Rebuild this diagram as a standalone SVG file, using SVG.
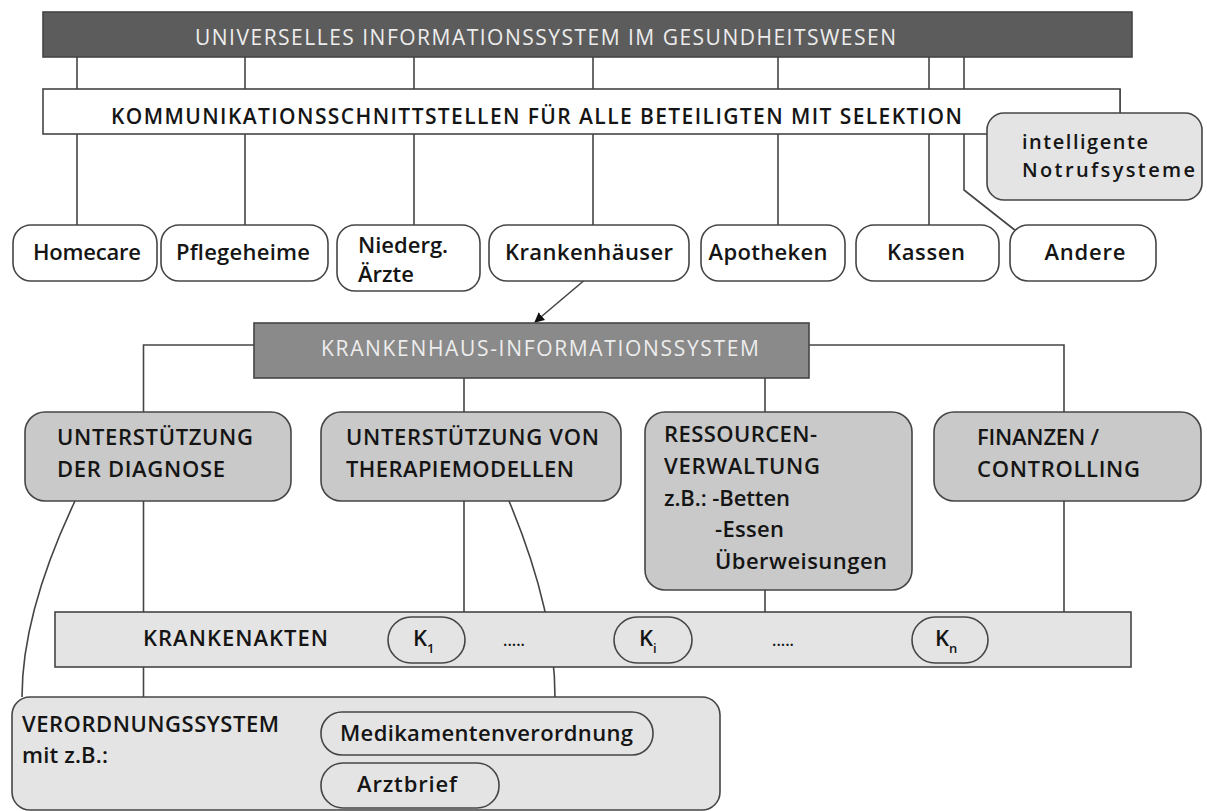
<svg xmlns="http://www.w3.org/2000/svg" width="1207" height="811" viewBox="0 0 1207 811">
<defs>
<marker id="arr" viewBox="0 0 10 10" refX="9" refY="5" markerWidth="10" markerHeight="10" markerUnits="userSpaceOnUse" orient="auto"><path d="M0,0 L10,5 L0,10 z" fill="#111"/></marker>
<style>
text{font-family:"Open Sans","Noto Sans","Liberation Sans",sans-serif;fill:#151515;font-weight:600}
.ln{fill:none;stroke:#454545;stroke-width:1.6}
.bx{stroke:#454545;stroke-width:1.6}
.w{fill:#fff}
.lg{fill:#e4e4e4}
.mg{fill:#c9c9c9}
.n{font-size:22px;text-anchor:middle}
.b{font-size:22px}
.lt{fill:#ededed;font-weight:400}
</style>
</defs>
<rect width="1207" height="811" fill="#fff"/>
<g id="connectors">
<path class="ln" d="M77,57V225M245,57V225M414,57V225M593,57V225M778,57V225M929,57V225M964,57V190L1016,231"/>
<path class="ln" d="M1120,89V113"/>
<path class="ln" d="M587,278L535,322" marker-end="url(#arr)"/>
<path class="ln" d="M254,345H143.5V412M809,345H1064V412M464,378V412M765,378V412"/>
<path class="ln" d="M143.5,501V612M464,501V612M765,590V612M1064,501V612M143.5,667V697"/>
<path class="ln" d="M75,501C40,575 22,640 22,697"/>
<path class="ln" d="M509,501C540,575 555,640 555,697"/>
</g>
<g id="top-bar"><rect class="bx" x="43" y="12" width="1089" height="45" fill="#5c5c5c"/>
<text x="195" y="45" font-size="21" textLength="701" class="lt">UNIVERSELLES INFORMATIONSSYSTEM IM GESUNDHEITSWESEN</text></g>
<g id="comm-bar"><rect class="bx w" x="43" y="89" width="1077" height="45"/>
<text x="111" y="124" font-size="21" textLength="851">KOMMUNIKATIONSSCHNITTSTELLEN FÜR ALLE BETEILIGTEN MIT SELEKTION</text></g>
<g id="notruf"><rect class="bx lg" x="987" y="113" width="215" height="87" rx="17"/>
<text x="1022" y="149" font-size="20" textLength="126">intelligente</text>
<text x="1022" y="177" font-size="20" textLength="173">Notrufsysteme</text></g>
<g id="homecare"><rect class="bx w" x="13" y="225" width="144" height="56" rx="18"/><text class="n" x="87" y="260" textLength="108">Homecare</text></g>
<g id="pflegeheime"><rect class="bx w" x="161" y="225" width="167" height="56" rx="18"/><text class="n" x="243" y="260" textLength="134">Pflegeheime</text></g>
<g id="niederg"><rect class="bx w" x="337" y="225" width="143" height="66" rx="18"/><text class="b" x="358" y="253">Niederg.</text><text class="b" x="358" y="282">Ärzte</text></g>
<g id="krankenhaeuser"><rect class="bx w" x="489" y="225" width="200" height="56" rx="18"/><text class="n" x="589" y="260" textLength="168">Krankenhäuser</text></g>
<g id="apotheken"><rect class="bx w" x="701" y="225" width="144" height="56" rx="18"/><text class="n" x="768" y="260" textLength="119">Apotheken</text></g>
<g id="kassen"><rect class="bx w" x="856" y="225" width="143" height="56" rx="18"/><text class="n" x="926" y="260" textLength="78">Kassen</text></g>
<g id="andere"><rect class="bx w" x="1010" y="225" width="146" height="56" rx="18"/><text class="n" x="1085" y="260" textLength="81">Andere</text></g>
<g id="kis"><rect class="bx" x="254" y="323" width="555" height="55" fill="#8a8a8a"/>
<text x="321" y="356" font-size="21" textLength="438" class="lt">KRANKENHAUS-INFORMATIONSSYSTEM</text></g>
<g id="diagnose"><rect class="bx mg" x="25" y="412" width="266" height="89" rx="20"/>
<text class="b" x="57" y="445" textLength="196">UNTERSTÜTZUNG</text><text class="b" x="57" y="477" textLength="168">DER DIAGNOSE</text></g>
<g id="therapie"><rect class="bx mg" x="321" y="412" width="300" height="89" rx="20"/>
<text class="b" x="346" y="445" textLength="253">UNTERSTÜTZUNG VON</text><text class="b" x="346" y="477" textLength="228">THERAPIEMODELLEN</text></g>
<g id="ressourcen"><rect class="bx mg" x="645" y="412" width="267" height="178" rx="20"/>
<text class="b" x="664" y="442" textLength="153">RESSOURCEN-</text>
<text class="b" x="664" y="474" textLength="156">VERWALTUNG</text>
<text class="b" x="664" y="506" textLength="126">z.B.: -Betten</text>
<text class="b" x="715" y="537" textLength="69">-Essen</text>
<text class="b" x="715" y="569" textLength="172">Überweisungen</text></g>
<g id="finanzen"><rect class="bx mg" x="934" y="412" width="267" height="89" rx="20"/>
<text class="b" x="977" y="445" textLength="122">FINANZEN /</text><text class="b" x="977" y="477" textLength="163">CONTROLLING</text></g>
<g id="krankenakten"><rect class="bx lg" x="55" y="612" width="1076" height="55"/>
<text class="b" x="143" y="646" textLength="185">KRANKENAKTEN</text>
<text x="503" y="646" font-size="16">.....</text>
<text x="772" y="646" font-size="16">.....</text></g>
<g id="k1"><rect class="bx lg" x="388" y="617" width="77" height="46" rx="23"/><text class="b" x="413" y="646">K<tspan font-size="13" dy="7">1</tspan></text></g>
<g id="ki"><rect class="bx lg" x="614" y="617" width="78" height="46" rx="23"/><text class="b" x="639" y="646">K<tspan font-size="13" dy="7">i</tspan></text></g>
<g id="kn"><rect class="bx lg" x="912" y="617" width="76" height="46" rx="23"/><text class="b" x="935" y="646">K<tspan font-size="13" dy="7">n</tspan></text></g>
<g id="verordnung"><rect class="bx lg" x="12" y="697" width="708" height="113" rx="18"/>
<text class="b" x="22" y="732" textLength="257">VERORDNUNGSSYSTEM</text>
<text class="b" x="22" y="763" textLength="86">mit z.B.:</text></g>
<g id="medikament"><rect class="bx lg" x="321" y="712" width="332" height="43" rx="21"/><text class="b" x="340" y="741" textLength="293">Medikamentenverordnung</text></g>
<g id="arztbrief"><rect class="bx lg" x="321" y="763" width="178" height="45" rx="22"/><text class="b" x="357" y="792" textLength="100">Arztbrief</text></g>
</svg>
